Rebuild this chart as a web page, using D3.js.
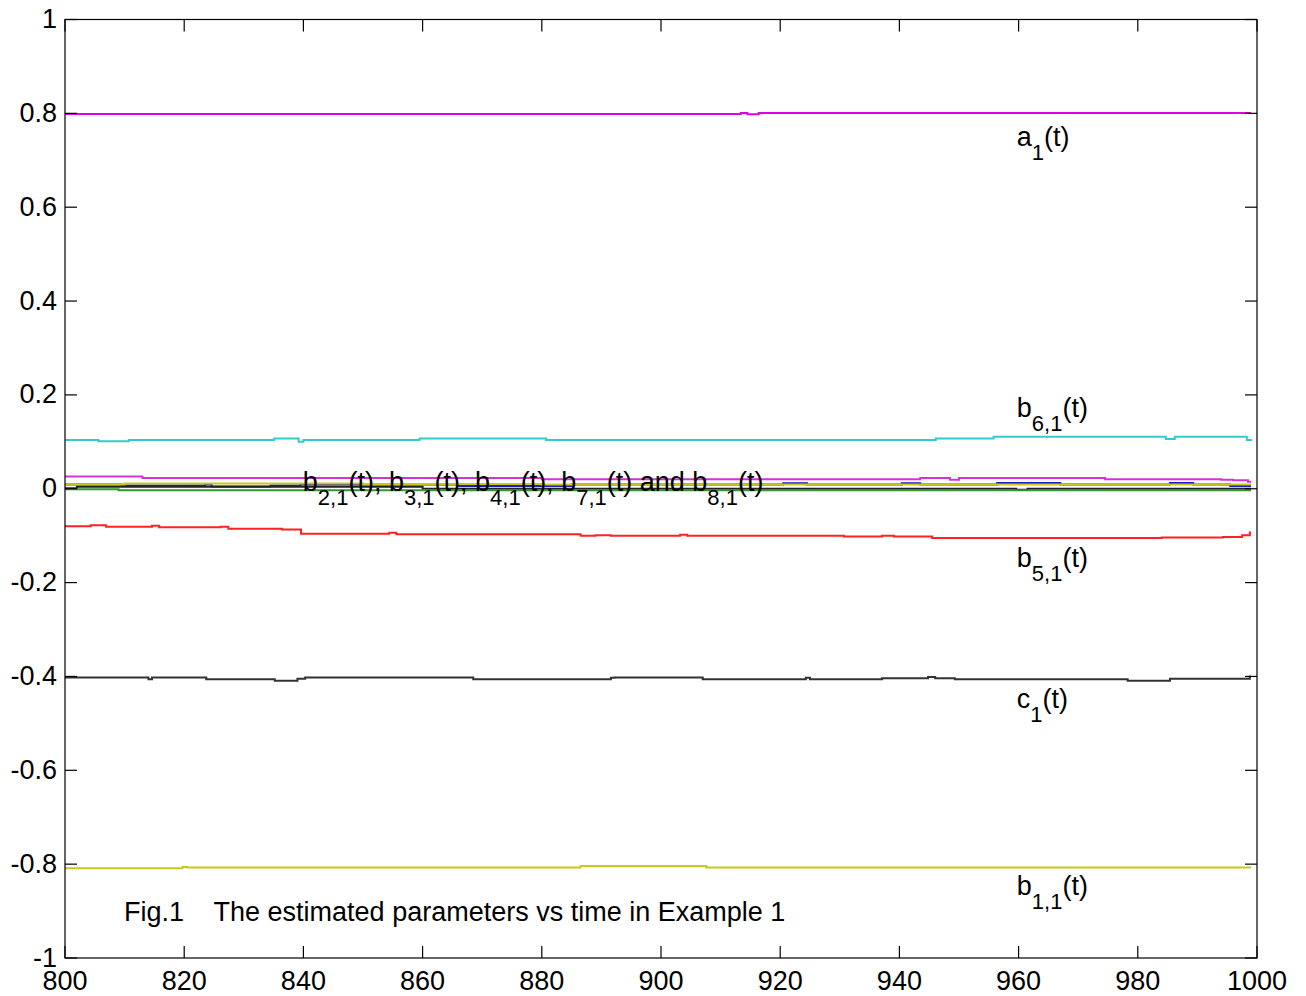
<!DOCTYPE html>
<html><head><meta charset="utf-8">
<script src="https://cdn.jsdelivr.net/npm/d3@7"></script>
<style>
html,body{margin:0;padding:0;background:#fff;}
svg{display:block;font-family:"Liberation Sans",Arial,sans-serif;}
</style></head>
<body>
<svg id="chart" width="1306" height="996"></svg>
<script>
// ---- data (step-wise estimates) ----
const xTicks = [800, 820, 840, 860, 880, 900, 920, 940, 960, 980, 1000];
const yTicks = [-1, -0.8, -0.6, -0.4, -0.2, 0, 0.2, 0.4, 0.6, 0.8, 1];
const yTickLabels = ["-1", "-0.8", "-0.6", "-0.4", "-0.2", "0", "0.2", "0.4", "0.6", "0.8", "1"];

const a1T = [800, 913.4, 914.5, 916.4, 999];
const a1V = [0.7985, 0.801, 0.798, 0.8005, 0.8005];

const b6T = [800, 805.6, 810.7, 835.1, 839.2, 840, 859.5, 880.7, 946.1, 955.8, 984.7, 986.2, 998.3, 999];
const b6V = [0.104, 0.101, 0.104, 0.107, 0.100, 0.104, 0.107, 0.104, 0.107, 0.111, 0.106, 0.111, 0.104, 0.102];

const bMagT = [800, 813, 880, 943.5, 948.5, 950, 974.5, 994, 996, 998.5, 999];
const bMagV = [0.026, 0.023, 0.020, 0.023, 0.019, 0.023, 0.020, 0.019, 0.018, 0.015, 0.015];

const bBlueT = [800, 809.5, 823.5, 824.6, 834.5, 839.5, 866, 885, 920.5, 924.5, 940.4, 943.5, 956.4, 967, 985.4, 989.3, 995.5, 999];
const bBlueV = [0.009, 0.007, 0.009, 0.005, 0.007, 0.009, 0.006, 0.009, 0.0115, 0.009, 0.0115, 0.009, 0.012, 0.009, 0.012, 0.009, 0.006, 0.006];

const bYelT = [800, 810, 850, 880, 999];
const bYelV = [0.009, 0.011, 0.010, 0.009, 0.009];

const bBlkT = [800, 802, 860, 959.6, 961.5, 999];
const bBlkV = [0.001, 0.004, 0.000, -0.002, 0.000, 0.000];

const bGrnT = [800, 809, 999];
const bGrnV = [-0.001, -0.003, -0.003];

const b5T = [800, 804.3, 806.9, 814.6, 815.8, 826.1, 827.4, 836.4, 839.6, 854.4, 855.6, 886.5, 889, 891.6, 903.2, 904.4, 930.7, 937.1, 939.1, 945.5, 984, 994.3, 997.5, 998.8, 999];
const b5V = [-0.080, -0.078, -0.081, -0.079, -0.082, -0.081, -0.085, -0.087, -0.096, -0.094, -0.097, -0.100, -0.099, -0.100, -0.098, -0.100, -0.102, -0.100, -0.102, -0.105, -0.104, -0.103, -0.099, -0.093, -0.093];

const c1T = [800, 814, 814.6, 823.7, 835.2, 839, 840.3, 868.5, 891.6, 892.2, 907, 924.3, 925, 937.1, 944.8, 946, 949.3, 978.3, 985.4, 998.8, 999];
const c1V = [-0.402, -0.406, -0.402, -0.406, -0.409, -0.405, -0.402, -0.406, -0.403, -0.402, -0.406, -0.403, -0.406, -0.404, -0.401, -0.404, -0.406, -0.409, -0.405, -0.400, -0.400];

const b1T = [800, 819.7, 820.5, 886.5, 907.6, 999];
const b1V = [-0.809, -0.806, -0.807, -0.804, -0.807, -0.807];

// ---- layout ----
const svg = d3.select("#chart");
const L = 65, R = 1257, T = 19.5, B = 958;
const x = d3.scaleLinear().domain([800, 1000]).range([L, R]);
const y = d3.scaleLinear().domain([-1, 1]).range([B, T]);
const FS = 27, SFS = 22, SUBDY = 14;

const series = [
  {T: a1T, V: a1V, c: "#e000e0"},
  {T: b6T, V: b6V, c: "#33cccc"},
  {T: bMagT, V: bMagV, c: "#d633d6"},
  {T: bBlueT, V: bBlueV, c: "#1a1acc"},
  {T: bYelT, V: bYelV, c: "#c8c820"},
  {T: bBlkT, V: bBlkV, c: "#222222"},
  {T: bGrnT, V: bGrnV, c: "#2e9a2e"},
  {T: b5T, V: b5V, c: "#ff2222"},
  {T: c1T, V: c1V, c: "#333333"},
  {T: b1T, V: b1V, c: "#c8c81e"}
];

const line = d3.line().x(d => x(d[0])).y(d => y(d[1])).curve(d3.curveStepAfter);
const gLines = svg.append("g");
series.forEach(s => {
  const pts = s.T.map((t, i) => [t, s.V[i]]);
  gLines.append("path").attr("d", line(pts)).attr("fill", "none")
    .attr("stroke", s.c).attr("stroke-width", 2);
});

// ---- axes box and inward ticks ----
const g = svg.append("g").attr("stroke", "#000").attr("stroke-width", 1.2).attr("fill", "none");
g.append("rect").attr("x", L).attr("y", T).attr("width", R - L).attr("height", B - T);
const TL = 12;
xTicks.forEach(v => {
  g.append("line").attr("x1", x(v)).attr("x2", x(v)).attr("y1", B).attr("y2", B - TL);
  g.append("line").attr("x1", x(v)).attr("x2", x(v)).attr("y1", T).attr("y2", T + TL);
});
yTicks.forEach(v => {
  g.append("line").attr("x1", L).attr("x2", L + TL).attr("y1", y(v)).attr("y2", y(v));
  g.append("line").attr("x1", R).attr("x2", R - TL).attr("y1", y(v)).attr("y2", y(v));
});

// tick labels
svg.append("g").selectAll("text").data(xTicks).join("text")
  .attr("x", d => x(d)).attr("y", 990).attr("text-anchor", "middle")
  .attr("font-size", FS).attr("fill", "#000").text(d => d);
svg.append("g").selectAll("text").data(yTicks).join("text")
  .attr("x", 57).attr("y", d => y(d) + 8.5).attr("text-anchor", "end")
  .attr("font-size", FS).attr("fill", "#000").text((d, i) => yTickLabels[i]);

// ---- annotations ----
function label(tx, ty, parts) {
  const t = svg.append("text").attr("x", x(tx)).attr("y", y(ty))
    .attr("font-size", FS).attr("fill", "#000");
  let pendingUp = false;
  parts.forEach(p => {
    const sp = t.append("tspan").text(p.s);
    if (p.sub) {
      sp.attr("font-size", SFS).attr("dy", SUBDY);
      pendingUp = true;
    } else if (pendingUp) {
      sp.attr("dy", -SUBDY);
      pendingUp = false;
    }
  });
}
label(959.7, 0.730, [{s: "a"}, {s: "1", sub: true}, {s: "(t)"}]);
label(959.7, 0.153, [{s: "b"}, {s: "6,1", sub: true}, {s: "(t)"}]);
label(959.7, -0.167, [{s: "b"}, {s: "5,1", sub: true}, {s: "(t)"}]);
label(959.7, -0.467, [{s: "c"}, {s: "1", sub: true}, {s: "(t)"}]);
label(959.7, -0.866, [{s: "b"}, {s: "1,1", sub: true}, {s: "(t)"}]);
label(839.9, -0.005, [{s: "b"}, {s: "2,1", sub: true}, {s: "(t), b"}, {s: "3,1", sub: true},
  {s: "(t), b"}, {s: "4,1", sub: true}, {s: "(t), b"}, {s: "7,1", sub: true},
  {s: "(t) and b"}, {s: "8,1", sub: true}, {s: "(t)"}]);

svg.append("text").attr("x", x(809.9)).attr("y", y(-0.921)).attr("font-size", FS)
  .attr("fill", "#000").style("white-space", "pre")
  .text("Fig.1    The estimated parameters vs time in Example 1");
</script>
</body></html>
